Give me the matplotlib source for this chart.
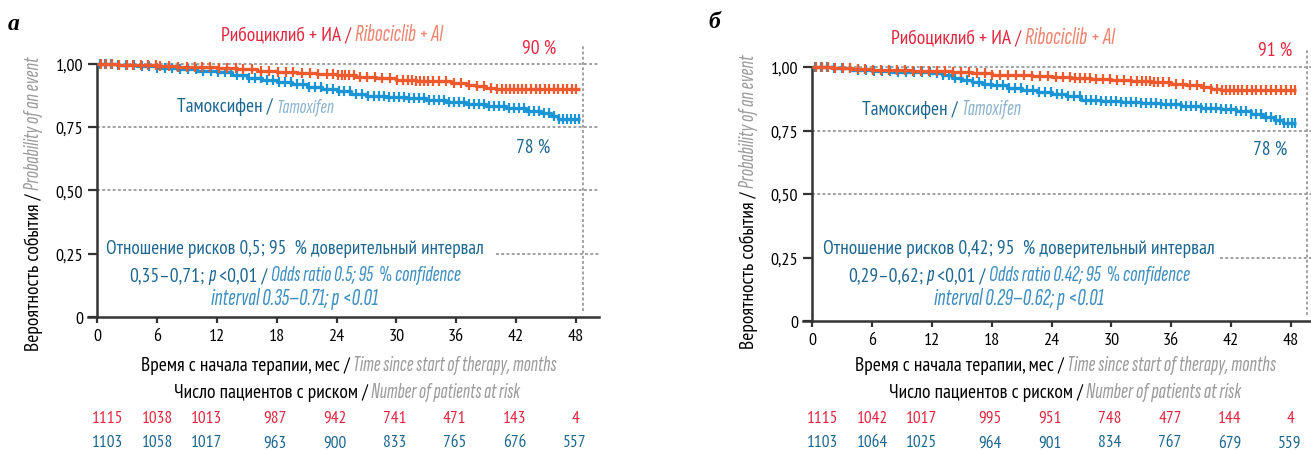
import numpy as np
import matplotlib
matplotlib.use("Agg")
import matplotlib.pyplot as plt
from matplotlib import font_manager as fm
import matplotlib.transforms as mtrans

# ---------------- data ----------------
x_ticks = [0, 6, 12, 18, 24, 30, 36, 42, 48]
y_ticks = [0, 0.25, 0.50, 0.75, 1.00]
y_tick_labels = ["0", "0,25", "0,50", "0,75", "1,00"]

# panel a
a_ribo_t = [0, 2, 4, 6, 8, 10, 12, 14, 16, 18, 20, 22, 24, 26, 28, 30, 32, 34, 35.5, 37, 38, 39, 40, 48.4]
a_ribo_s = [1.0, 0.996, 0.993, 0.990, 0.988, 0.985, 0.982, 0.977, 0.972, 0.968, 0.963, 0.958, 0.954, 0.948, 0.941, 0.935, 0.932, 0.929, 0.924, 0.916, 0.911, 0.905, 0.901, 0.901]
a_tam_t = [0, 2, 4, 6, 8, 10, 12, 13.5, 15, 16.5, 18, 19.5, 21, 22.5, 24, 25.5, 27, 29, 31, 33, 35, 37, 39, 41, 43, 44.5, 45.5, 46.2, 48.4]
a_tam_s = [1.0, 0.995, 0.990, 0.983, 0.977, 0.972, 0.965, 0.955, 0.941, 0.934, 0.928, 0.918, 0.908, 0.900, 0.890, 0.878, 0.870, 0.867, 0.862, 0.857, 0.850, 0.842, 0.833, 0.823, 0.812, 0.803, 0.793, 0.782, 0.782]
a_ribo_cens = [0.4, 0.9, 1.5, 2.2, 3.0, 3.6, 4.4, 5.1, 5.9, 6.3, 7.2, 8.1, 9.0, 9.8, 10.5, 11.3, 12.2,
               13.0, 13.9, 14.6, 15.5, 16.4, 17.2, 18.1, 18.9, 19.6, 20.5, 21.3, 22.1, 23.0, 23.6,
               24.1, 24.5, 24.9, 25.3, 25.8, 26.4, 27.1, 27.9, 28.6, 29.4, 30.1, 30.7, 31.2, 31.6,
               32.0, 32.4, 32.8, 33.2, 33.7, 34.3, 35.0, 35.8, 36.5, 37.3, 38.1, 38.8, 39.5, 40.1,
               40.6, 41.0, 41.4, 41.8, 42.2, 42.6, 43.0, 43.5, 44.0, 44.4, 44.9, 45.3, 45.8, 46.2,
               46.7, 47.1, 47.6, 48.0]
a_tam_cens = [0.3, 0.8, 1.4, 2.1, 2.9, 3.7, 4.5, 5.2, 6.0, 6.8, 7.5, 8.3, 9.1, 9.9, 10.6, 11.4, 12.1,
              12.8, 13.4, 14.0, 14.6, 15.2, 15.8, 16.4, 17.0, 17.6, 18.2, 18.8, 19.4, 20.0, 20.6,
              21.2, 21.8, 22.4, 23.0, 23.6, 24.2, 24.8, 25.4, 26.0, 26.6, 27.2, 27.8, 28.3, 28.8,
              29.3, 29.8, 30.3, 30.8, 31.3, 31.8, 32.3, 32.8, 33.3, 33.8, 34.3, 34.8, 35.3, 35.8,
              36.3, 36.8, 37.3, 37.8, 38.3, 38.8, 39.3, 39.8, 40.3, 40.8, 41.3, 41.8, 42.3, 42.8,
              43.3, 43.8, 44.3, 44.8, 45.3, 45.8, 46.3, 46.7, 47.1, 47.5, 47.9, 48.3]
a_ribo_risk = ["1115", "1038", "1013", "987", "942", "741", "471", "143", "4"]
a_tam_risk = ["1103", "1058", "1017", "963", "900", "833", "765", "676", "557"]
a_ribo_pct = "90 %"
a_tam_pct = "78 %"
a_hr = ("0,5", "0,35–0,71", "0.5", "0.35–0.71")

# panel b
b_ribo_t = [0, 2, 4, 6, 8, 10, 12, 14, 16, 18, 20, 22, 24, 26, 28, 30, 32, 34, 36, 37.5, 39, 40, 41, 48.5]
b_ribo_s = [1.0, 0.996, 0.993, 0.990, 0.988, 0.986, 0.984, 0.980, 0.975, 0.970, 0.967, 0.964, 0.960, 0.955, 0.952, 0.949, 0.944, 0.940, 0.935, 0.929, 0.921, 0.914, 0.910, 0.910]
b_tam_t = [0, 2, 4, 6, 8, 10, 12, 13, 14, 15, 16, 17, 18, 19.5, 21, 22.5, 24, 25.5, 27, 29, 31, 33, 35, 37, 39, 41, 42.5, 44, 45.2, 46.3, 47.2, 48.5]
b_tam_s = [1.0, 0.995, 0.990, 0.985, 0.982, 0.979, 0.975, 0.967, 0.958, 0.950, 0.942, 0.935, 0.928, 0.919, 0.910, 0.902, 0.895, 0.884, 0.870, 0.866, 0.862, 0.858, 0.853, 0.846, 0.840, 0.834, 0.826, 0.815, 0.805, 0.793, 0.780, 0.780]
b_ribo_cens = [0.4, 1.0, 1.6, 2.3, 3.1, 3.8, 4.6, 5.3, 6.1, 6.9, 7.7, 8.5, 9.3, 10.1, 10.9, 11.7, 12.5,
               13.3, 14.1, 14.9, 15.7, 16.5, 17.3, 18.0, 18.8, 19.6, 20.4, 21.2, 22.0, 22.8, 23.6,
               24.4, 25.2, 25.9, 26.4, 26.9, 27.4, 27.9, 28.5, 29.2, 29.9, 30.6, 31.3, 32.0, 32.6,
               33.1, 33.5, 33.9, 34.3, 34.7, 35.2, 35.8, 36.5, 37.2, 37.9, 38.6, 39.3, 40.0, 40.6,
               41.1, 41.5, 41.9, 42.3, 42.7, 43.1, 43.6, 44.1, 44.5, 45.0, 45.5, 46.0, 46.5, 47.0,
               47.5, 48.0, 48.4]
b_tam_cens = [0.3, 0.9, 1.5, 2.2, 3.0, 3.8, 4.6, 5.4, 6.2, 7.0, 7.8, 8.6, 9.4, 10.2, 11.0, 11.8, 12.5,
              13.1, 13.7, 14.3, 14.9, 15.5, 16.1, 16.7, 17.3, 17.9, 18.5, 19.1, 19.7, 20.3, 20.9,
              21.5, 22.1, 22.7, 23.3, 23.9, 24.5, 25.1, 25.7, 26.3, 26.9, 27.5, 28.0, 28.5, 29.0,
              29.5, 30.0, 30.5, 31.0, 31.5, 32.0, 32.5, 33.0, 33.5, 34.0, 34.5, 35.0, 35.5, 36.0,
              36.5, 37.0, 37.5, 38.0, 38.5, 39.0, 39.5, 40.0, 40.5, 41.0, 41.5, 42.0, 42.5, 43.0,
              43.5, 44.0, 44.5, 45.0, 45.5, 46.0, 46.5, 46.9, 47.3, 47.7, 48.1, 48.4]
b_ribo_risk = ["1115", "1042", "1017", "995", "951", "748", "477", "144", "4"]
b_tam_risk = ["1103", "1064", "1025", "964", "901", "834", "767", "679", "559"]
b_ribo_pct = "91 %"
b_tam_pct = "78 %"
b_hr = ("0,42", "0,29–0,62", "0.42", "0.29–0.62")

# ---------------- styling ----------------
W, H = 1311, 452
names = {f.name for f in fm.fontManager.ttflist}
italic_names = {f.name for f in fm.fontManager.ttflist if f.style == "italic"}


def pick(cands, need_italic=False):
    for c in cands:
        if c in names and (not need_italic or c in italic_names):
            return c
    return "DejaVu Sans"


REG = pick(["PT Sans Narrow", "Fira Sans Extra Condensed", "Roboto Condensed"])
ITA = pick(["Sofia Sans Extra Condensed", "Sofia Sans Condensed", "Barlow Condensed",
            "Fira Sans Extra Condensed", "Roboto Condensed"], need_italic=True)
REG_F = [REG, "DejaVu Sans"]
ITA_F = [ITA, "DejaVu Sans"]
plt.rcParams["font.family"] = REG_F

C_RED_TXT = "#E3263F"
C_SALMON = "#F08470"
C_DBLUE = "#1C6690"
C_LBLUE_IT = "#8DB3CE"
C_HR_IT = "#3E8FC2"
C_GRAY_IT = "#9B9B9B"
C_RED_LINE = "#EE5A2E"
C_BLUE_LINE = "#1B95D4"
C_GRID = "#9A9A9A"
C_AXIS = "#333333"

RS = 14.0    # regular text size
IS = 14.0    # italic base size (rescaled to fit)
ITF = 0.93   # italic pieces take this share of their measured room

fig = plt.figure(figsize=(W / 100, H / 100), dpi=100)
renderer = fig.canvas.get_renderer()
PX = mtrans.IdentityTransform()


def R(color, **kw):
    return dict(color=color, family=REG_F, fontsize=RS, **kw)


def I(color, **kw):
    return dict(color=color, family=ITA_F, style="italic", fontsize=IS, **kw)


def tl(x, y):
    return x, H - y


def _fit(objs, flags, size_of, target, sep):
    """regular pieces keep their size, italic pieces are scaled to fill the rest"""
    sizes = [size_of(o) for o in objs]
    seps = sep * (len(objs) - 1)
    reg = sum(s for s, it in zip(sizes, flags) if not it)
    ita = sum(s for s, it in zip(sizes, flags) if it)
    if ita > 0:
        room = max(target - reg - seps, 10) * ITF
        f = room / ita
        for o, it in zip(objs, flags):
            if it:
                o.set_fontsize(o.get_fontsize() * f)
    else:
        f = (target - seps) / reg
        for o in objs:
            o.set_fontsize(o.get_fontsize() * f)
    return [size_of(o) for o in objs]


def hrich(pieces, x, y, width=None, ha="center", sep=3.4):
    objs = [fig.text(0, 0, t, transform=PX, ha="left", va="baseline", **kw) for t, kw in pieces]
    flags = [kw.get("style") == "italic" for _, kw in pieces]
    size_of = lambda o: o.get_window_extent(renderer).width
    ws = [size_of(o) for o in objs]
    if width is not None:
        ws = _fit(objs, flags, size_of, width, sep)
    total = sum(ws) + sep * (len(objs) - 1)
    X, Y = tl(x, y)
    X0 = X - total / 2 if ha == "center" else (X if ha == "left" else X - total)
    for o, w in zip(objs, ws):
        o.set_position((X0, Y))
        X0 += w + sep
    return objs


def vrich(pieces, x, yc, length=None, sep=3.4):
    objs = [fig.text(0, 0, t, transform=PX, rotation=90, rotation_mode="anchor",
                     ha="left", va="baseline", **kw) for t, kw in pieces]
    flags = [kw.get("style") == "italic" for _, kw in pieces]
    size_of = lambda o: o.get_window_extent(renderer).height
    hs = [size_of(o) for o in objs]
    if length is not None:
        hs = _fit(objs, flags, size_of, length, sep)
    total = sum(hs) + sep * (len(objs) - 1)
    X, Yc = tl(x, yc)
    Y0 = Yc - total / 2
    for o, h in zip(objs, hs):
        o.set_position((X, Y0))
        Y0 += h + sep


def km_values(times, surv, pts):
    idx = np.searchsorted(times, pts, side="right") - 1
    return np.asarray(surv)[idx]


def panel(ax_px, data, txt):
    left, right, top, bottom = ax_px
    ax = fig.add_axes([left / W, (H - bottom) / H, (right - left) / W, (bottom - top) / H])
    ax.set_xlim(-0.9, 50.3)
    ax.set_ylim(0, (bottom - top) / data["ypx"])
    ax.patch.set_alpha(0)
    for s in ["top", "right"]:
        ax.spines[s].set_visible(False)
    ax.spines["left"].set_position(("data", 0))
    ax.spines["left"].set_bounds(0, 1)
    for s in ["left", "bottom"]:
        ax.spines[s].set_linewidth(1.8)
        ax.spines[s].set_color(C_AXIS)
    ax.set_xticks(x_ticks)
    ax.set_xticklabels([str(v) for v in x_ticks])
    ax.set_yticks(y_ticks)
    ax.set_yticklabels(y_tick_labels)
    ax.tick_params(axis="y", direction="out", length=6.5, width=1.6, color=C_AXIS,
                   labelsize=13, pad=3.5)
    ax.tick_params(axis="x", direction="out", length=4.5, width=1.6, color=C_AXIS,
                   labelsize=13, pad=3.5)
    gk = dict(color=C_GRID, lw=1.3, ls=(0, (1.6, 1.3)), zorder=1)
    for yv in [0.5, 0.75, 1.0]:
        ax.plot([0, 50.3], [yv, yv], clip_on=False, **gk)
    ax.plot([data["gap_end"], 50.3], [0.25, 0.25], clip_on=False, **gk)
    ax.plot([data["vline"], data["vline"]], [0.025, ax.get_ylim()[1]], clip_on=False, **gk)
    for t, s, c, col in [(data["tam_t"], data["tam_s"], data["tam_c"], C_BLUE_LINE),
                         (data["ribo_t"], data["ribo_s"], data["ribo_c"], C_RED_LINE)]:
        ax.step(t, s, where="post", color=col, lw=2.4, zorder=3, solid_capstyle="butt")
        ax.plot(c, km_values(t, s, c), ls="none", marker="|", ms=6.5, mew=1.6, color=col, zorder=3)

    hrich([("Рибоциклиб + ИА /", R(C_RED_TXT)), ("Ribociclib + AI", I(C_SALMON))],
          *txt["title"], width=txt["w_title"])
    hrich([(data["ribo_pct"], R(C_RED_TXT))], *txt["rpct"])
    hrich([("Тамоксифен /", R(C_DBLUE)), ("Tamoxifen", I(C_LBLUE_IT))], *txt["tam"], width=txt["w_tam"])
    hrich([(data["tam_pct"], R(C_DBLUE))], *txt["tpct"])
    hr = data["hr"]
    hx, hy = txt["hr"]
    hrich([(f"Отношение рисков {hr[0]}; 95  % доверительный интервал", R(C_DBLUE))], hx, hy,
          width=txt["w_hr"][0])
    hrich([(f"{hr[1]};", R(C_DBLUE)), ("p", I(C_DBLUE)), ("<0,01 /", R(C_DBLUE)),
           (f"Odds ratio {hr[2]}; 95  % confidence", I(C_HR_IT))], hx, hy + 27, width=txt["w_hr"][1])
    hrich([(f"interval {hr[3]}; p <0.01", I(C_HR_IT))], hx, hy + 51, width=txt["w_hr"][2])
    hrich([("Время с начала терапии, мес /", R("black")),
           ("Time since start of therapy, months", I(C_GRAY_IT))], txt["xlab"], 371, width=txt["w_xlab"])
    hrich([("Число пациентов с риском /", R("black")),
           ("Number of patients at risk", I(C_GRAY_IT))], txt["risk_t"], 398, width=txt["w_risk"])
    for m, r1, r2 in zip(txt["risk_x"], data["ribo_risk"], data["tam_risk"]):
        X = ax.transData.transform((m, 0))[0]
        hrich([(r1, R(C_RED_TXT, ))], X, 423)[0].set_fontsize(12.4)
        hrich([(r2, R(C_DBLUE))], X, 447.5)[0].set_fontsize(12.4)
    vrich([("Вероятность события /", R("black")),
           ("Probability of an event", I(C_GRAY_IT))], txt["ylab"], txt["ylab_c"], length=304)
    fig.text(*tl(*txt["letter"][:2]), txt["letter"][2], transform=PX, ha="left", va="baseline",
             family="Liberation Serif", weight="bold", style="italic", fontsize=17)
    return ax


risk_x = [1.25, 6.3, 11.2, 18, 24, 30, 36, 42, 48]

panel((88, 599, 47, 318),
      dict(ypx=253.5, gap_end=40.0, vline=48.7, ribo_t=a_ribo_t, ribo_s=a_ribo_s, ribo_c=a_ribo_cens,
           tam_t=a_tam_t, tam_s=a_tam_s, tam_c=a_tam_cens, ribo_risk=a_ribo_risk, tam_risk=a_tam_risk,
           ribo_pct=a_ribo_pct, tam_pct=a_tam_pct, hr=a_hr),
      dict(title=(332, 41), w_title=228, rpct=(539, 54), tam=(255.5, 112), w_tam=161,
           tpct=(533, 153), hr=(295, 254), w_hr=(379, 345, 180),
           xlab=348.5, w_xlab=431, risk_t=347, w_risk=358, risk_x=risk_x,
           ylab=39, ylab_c=204, letter=(8, 30, "а")))

panel((803, 1314, 50.5, 322),
      dict(ypx=254.0, gap_end=40.9, vline=49.6, ribo_t=b_ribo_t, ribo_s=b_ribo_s, ribo_c=b_ribo_cens,
           tam_t=b_tam_t, tam_s=b_tam_s, tam_c=b_tam_cens, ribo_risk=b_ribo_risk, tam_risk=b_tam_risk,
           ribo_pct=b_ribo_pct, tam_pct=b_tam_pct, hr=b_hr),
      dict(title=(1003, 44), w_title=230, rpct=(1275, 56), tam=(941.5, 115), w_tam=163,
           tpct=(1270, 155), hr=(1019, 254), w_hr=(394, 358, 183),
           xlab=1065.5, w_xlab=437, risk_t=1065, w_risk=364, risk_x=risk_x,
           ylab=754, ylab_c=202, letter=(708, 28, "б")))

fig.savefig("out.png", dpi=100)
